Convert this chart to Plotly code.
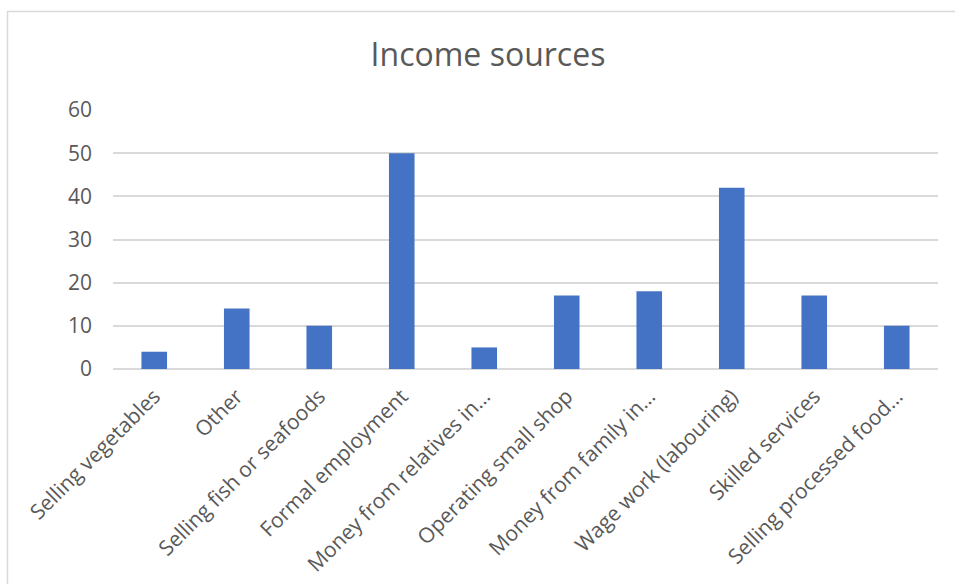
import plotly.graph_objects as go

categories = [
    "Selling vegetables",
    "Other",
    "Selling fish or seafoods",
    "Formal employment",
    "Money from relatives in…",
    "Operating small shop",
    "Money from family in…",
    "Wage work (labouring)",
    "Skilled services",
    "Selling processed food…",
]
values = [4, 14, 10, 50, 5, 17, 18, 42, 17, 10]
y_ticks = [0, 10, 20, 30, 40, 50, 60]

W, H = 955, 584
ML, MR, MT, MB = 113, 17, 110, 215
PW, PH = W - ML - MR, H - MT - MB
font_family = "Open Sans"
text_color = "#595959"

fig = go.Figure(
    go.Bar(
        x=categories,
        y=values,
        marker=dict(color="#4472C4", line=dict(width=0)),
        hoverinfo="x+y",
    )
)

fig.update_layout(
    width=W,
    height=H,
    paper_bgcolor="white",
    plot_bgcolor="white",
    margin=dict(l=ML, r=MR, t=MT, b=MB, autoexpand=False),
    bargap=0.69,
    showlegend=False,
    title=dict(
        text="Income sources",
        x=488 / W,
        xanchor="center",
        y=1 - 55 / H,
        yanchor="middle",
        font=dict(family=font_family, size=32, color=text_color),
    ),
    font=dict(family=font_family, size=21, color=text_color),
    shapes=[
        dict(
            type="rect",
            xref="paper",
            yref="paper",
            x0=(7.5 - ML) / PW,
            x1=(W + 3 - ML) / PW,
            y0=-(H + 3 - (MT + PH)) / PH,
            y1=1 + (MT - 11.5) / PH,
            line=dict(color="#d9d9d9", width=1.5),
            fillcolor="rgba(0,0,0,0)",
            layer="below",
        )
    ],
)

fig.update_yaxes(
    range=[0, 60],
    tickvals=y_ticks,
    ticktext=[str(v) for v in y_ticks],
    showgrid=True,
    gridcolor="#d9d9d9",
    gridwidth=1.5,
    zeroline=True,
    zerolinecolor="#d9d9d9",
    zerolinewidth=1.5,
    showline=False,
    ticks="",
    ticklabelstandoff=20,
    tickfont=dict(family=font_family, size=21, color=text_color),
    fixedrange=True,
)

fig.update_xaxes(
    tickangle=-45,
    showgrid=False,
    showline=False,
    ticks="",
    ticklabelstandoff=10,
    tickfont=dict(family=font_family, size=21, color=text_color),
    fixedrange=True,
)

fig.write_html(
    "out.html",
    config={"displayModeBar": False},
    post_script="document.body.style.margin='0';document.body.style.overflow='hidden';",
)
